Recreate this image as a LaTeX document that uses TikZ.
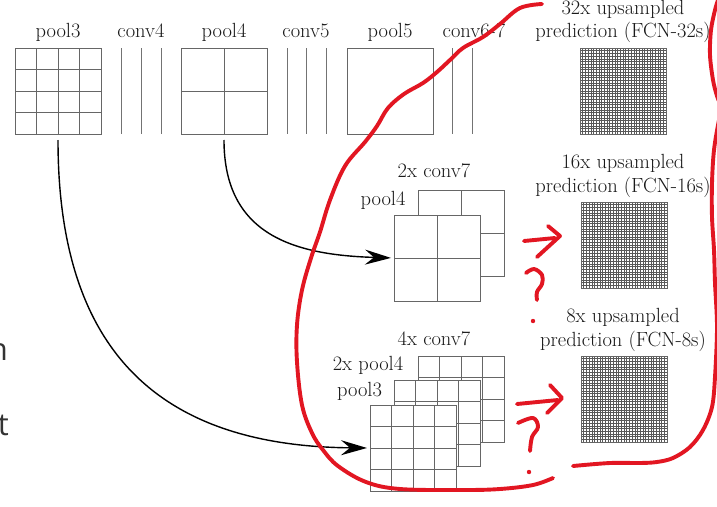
\documentclass[tikz,border=0pt]{standalone}
\usepackage{fontspec}
\newfontfamily\slidefont{Open Sans}
\usetikzlibrary{arrows.meta}
\definecolor{penred}{RGB}{226,22,34}
\tikzset{
  sqbox/.style={draw=black!60, line width=0.9pt, fill=white, minimum size=86pt, inner sep=0pt, outer sep=0pt},
  gridln/.style={draw=black!60, line width=0.9pt},
  fineln/.style={draw=black!65, line width=0.45pt},
  convln/.style={draw=black!55, line width=0.9pt},
  lbl/.style={font=\fontsize{20.5}{24}\selectfont, anchor=base, inner sep=0pt, text=black!90},
  slidetxt/.style={font=\slidefont\fontsize{31}{36}\selectfont, anchor=base east, inner sep=0pt, text=black!80},
  arr/.style={-{Stealth[length=26pt,width=15pt,inset=9pt]}, line width=1.4pt, shorten >=3pt},
  redpen/.style={draw=penred, line width=3.9pt, line cap=round, line join=round},
}
\newcommand\gridat[5]{% name, left x, top y, step, style
  \node[sqbox] (#1) at (#2+43,#3+43) {};
  \begin{scope}[shift={(#2,#3)}]\draw[#5, step=#4pt] (0,0) grid (86,86);\end{scope}
  \draw[gridln, fill=none] (#2,#3) rectangle (#2+86,#3+86);}
\begin{document}
\begin{tikzpicture}[x=1pt,y=-1pt]
\clip (0,0) rectangle (717,506);
\fill[white] (0,0) rectangle (717,506);

% ---- top row
\gridat{pthree}{15}{48}{21.5}{gridln}
\node[lbl] (lpthree) at (58,37) {pool3};
\draw[convln] (121,48) -- (121,134);
\draw[convln] (141,48) -- (141,134);
\draw[convln] (161,48) -- (161,134);
\node[lbl] (lcfour) at (141,37) {conv4};
\gridat{pfour}{181}{48}{43}{gridln}
\node[lbl] (lpfour) at (224,37) {pool4};
\draw[convln] (287,48) -- (287,134);
\draw[convln] (306,48) -- (306,134);
\draw[convln] (326,48) -- (326,134);
\node[lbl] (lcfive) at (306,37) {conv5};
\gridat{pfive}{347}{48}{86}{gridln}
\node[lbl] (lpfive) at (390,37) {pool5};
\draw[convln] (452,48) -- (452,134);
\draw[convln] (472,48) -- (472,134);
\node[lbl] (lcsix) at (474,37) {conv6-7};

% ---- predictions
\gridat{predA}{580}{48}{2.6875}{fineln}
\node[lbl] (lpredAa) at (623,14) {32x upsampled};
\node[lbl] (lpredAb) at (623,37) {prediction (FCN-32s)};
\gridat{predB}{581}{202}{2.6875}{fineln}
\node[lbl] (lpredBa) at (623,168) {16x upsampled};
\node[lbl] (lpredBb) at (623,192) {prediction (FCN-16s)};
\gridat{predC}{581}{356}{2.6875}{fineln}
\node[lbl] (lpredCa) at (623,322) {8x upsampled};
\node[lbl] (lpredCb) at (623,346) {prediction (FCN-8s)};

% ---- middle row
\gridat{midback}{418}{190}{43}{gridln}
\gridat{midfront}{394}{215}{43}{gridln}
\node[lbl] (lmidback) at (434,177) {2x conv7};
\node[lbl] (lmidfront) at (383,205) {pool4};

% ---- bottom row
\gridat{botback}{418}{356}{21.5}{gridln}
\gridat{botmid}{394}{380}{21.5}{gridln}
\gridat{botfront}{370}{405}{21.5}{gridln}
\node[lbl] (lbotback) at (434,345) {4x conv7};
\node[lbl] (lbotmid) at (368,370) {2x pool4};
\node[lbl] (lbotfront) at (359.5,396) {pool3};

% ---- arrows
\draw[arr] ([yshift=-6pt]pfour.south) .. controls +(0,95) and +(-100,-3) .. (midfront.west);
\draw[arr] ([yshift=-6pt]pthree.south) .. controls +(0,205) and +(-217,-2) .. (botfront.west);

% ---- slide text fragments
\node[slidetxt] (fragn) at (8,360) {n};
\node[slidetxt] (fragt) at (9,435) {t};

% ---- red annotations
\draw[redpen] plot[smooth, tension=0.6] coordinates {
 (542,4) (520,8) (500,24) (483,37) (463,48) (450,60) (437,72) (423,83) (404,94)
 (388,108) (377,126) (365,142) (345,166) (330,200) (320,232) (311,258) (302,290) (297,325) (297,362)
 (302,405) (312,433) (323,450) (338,466) (366,482) (400,489) (463,490) (500,489) (533,485) (553,478)};
\draw[redpen] plot[smooth, tension=0.55] coordinates {
 (573,466) (610,463) (640,463) (657,462) (673,458) (690,447) (703,430) (712,407) (715,377)
 (717,327) (715,283) (714,250) (712,217) (712,183) (714,150) (719,120) (722,110) (717,96)
 (713,80) (710,55) (711,30) (715,10) (718,0)};
\draw[redpen] (524,241) -- (555,238);
\draw[redpen] (548,226) -- (560,236) -- (537,257);
\draw[redpen] plot[smooth, tension=0.6] coordinates {(526,273) (534,269) (542,275) (542,284) (537,292) (537,300)};
\fill[penred] (533,321) circle (2.2pt);
\draw[redpen] (517,404) -- (558,400);
\draw[redpen] (550,385) -- (562,398) -- (547,413);
\draw[redpen] plot[smooth, tension=0.6] coordinates {(518,423) (533,418) (538,427) (532,437) (530,451)};
\fill[penred] (529,472) circle (2.2pt);
\end{tikzpicture}
\end{document}
